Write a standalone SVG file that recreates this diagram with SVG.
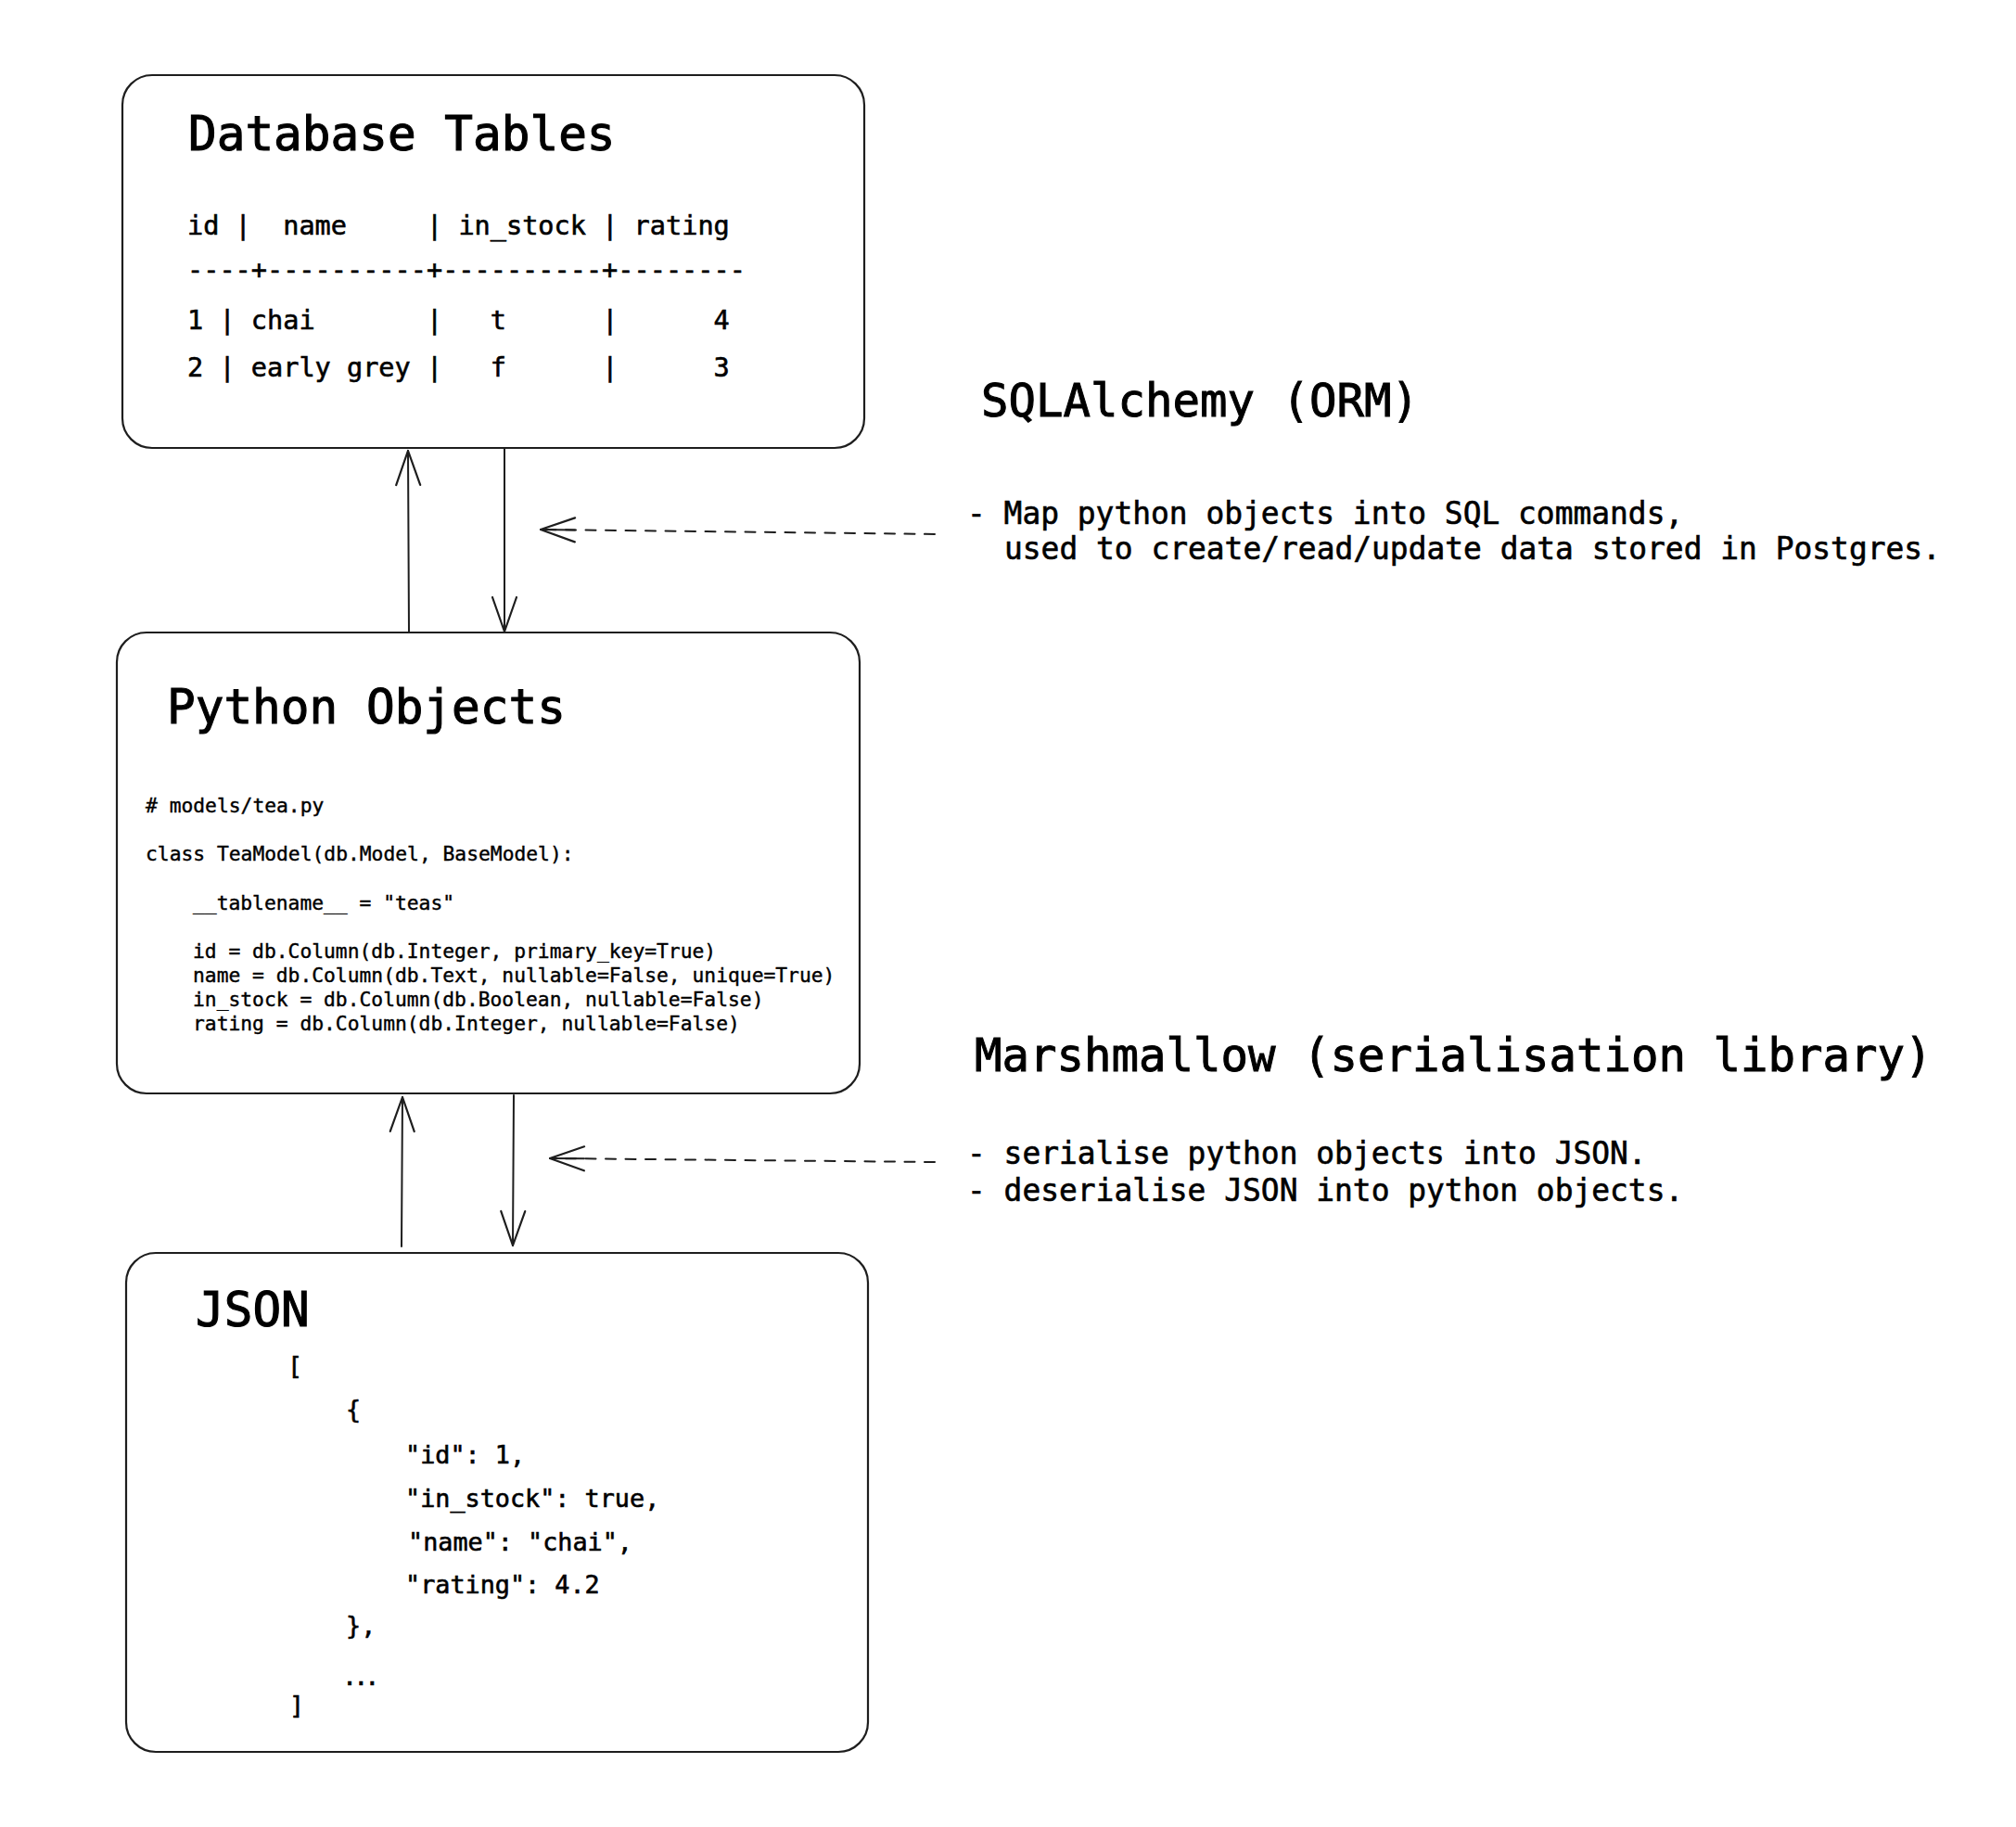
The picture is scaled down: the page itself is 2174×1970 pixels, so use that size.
<svg xmlns="http://www.w3.org/2000/svg" width="2174" height="1970" viewBox="0 0 2174 1970">
<style>
.box{fill:#ffffff;stroke:#1e1e1e;stroke-width:2.2}
.t{font-family:"DejaVu Sans Mono","Liberation Mono",monospace;fill:#000000;stroke:#000000;stroke-width:0.6;white-space:pre}
.title{font-size:51px;stroke-width:1.1}
.side{font-size:49px;stroke-width:1}
.tbl{font-size:28.57px}
.code{font-size:21.3px;stroke-width:0.4}
.json{font-size:26.8px}
.desc{font-size:32.9px}
.ln{fill:none;stroke:#1e1e1e;stroke-width:2;stroke-linecap:round}
.dash{stroke-dasharray:11 10.5}
</style>
<defs>
<marker id="open" markerUnits="userSpaceOnUse" orient="auto" refX="0" refY="0" markerWidth="60" markerHeight="60" viewBox="-50 -30 60 60" overflow="visible">
<path d="M -37 -13 L 0 0 L -37 13" fill="none" stroke="#1e1e1e" stroke-width="2.2" stroke-linecap="round" stroke-linejoin="round"/>
</marker>
</defs>
<rect width="2174" height="1970" fill="#ffffff"/>

<g id="database-tables">
<rect class="box" x="132" y="81" width="800" height="402" rx="32" ry="32"/>
<text class="t title" x="203" y="162">Database Tables</text>
<text class="t tbl" y="253"><tspan x="202">id</tspan><tspan x="253.6">|</tspan><tspan x="305.2">name</tspan><tspan x="460">|</tspan><tspan x="494.4">in_stock</tspan><tspan x="649.2">|</tspan><tspan x="683.6">rating</tspan></text>
<text class="t tbl" x="202" y="301">----+----------+----------+--------</text>
<text class="t tbl" y="355"><tspan x="202">1</tspan><tspan x="236.4">|</tspan><tspan x="270.8">chai</tspan><tspan x="460">|</tspan><tspan x="528.8">t</tspan><tspan x="649.2">|</tspan><tspan x="769.6">4</tspan></text>
<text class="t tbl" y="406"><tspan x="202">2</tspan><tspan x="236.4">|</tspan><tspan x="270.8">early grey</tspan><tspan x="460">|</tspan><tspan x="528.8">f</tspan><tspan x="649.2">|</tspan><tspan x="769.6">3</tspan></text>
</g>

<g id="python-objects">
<rect class="box" x="126" y="682" width="801" height="497" rx="32" ry="32"/>
<text class="t title" x="180" y="780">Python Objects</text>
<text class="t code" x="157" y="876"># models/tea.py</text>
<text class="t code" x="157" y="928">class TeaModel(db.Model, BaseModel):</text>
<text class="t code" x="208" y="981">__tablename__ = "teas"</text>
<text class="t code" x="208" y="1033">id = db.Column(db.Integer, primary_key=True)</text>
<text class="t code" x="208" y="1059">name = db.Column(db.Text, nullable=False, unique=True)</text>
<text class="t code" x="208" y="1085">in_stock = db.Column(db.Boolean, nullable=False)</text>
<text class="t code" x="208" y="1111">rating = db.Column(db.Integer, nullable=False)</text>
</g>

<g id="json">
<rect class="box" x="136" y="1351" width="800" height="538" rx="32" ry="32"/>
<text class="t title" x="211" y="1430">JSON</text>
<text class="t json" x="310" y="1482">[</text>
<text class="t json" x="373" y="1529">{</text>
<text class="t json" x="437" y="1578">"id": 1,</text>
<text class="t json" x="437" y="1625">"in_stock": true,</text>
<text class="t json" x="440" y="1672">"name": "chai",</text>
<text class="t json" x="437" y="1718">"rating": 4.2</text>
<text class="t json" x="373" y="1762">},</text>
<text class="t json" x="369" y="1817" letter-spacing="-4">...</text>
<text class="t json" x="312" y="1848">]</text>
</g>

<g id="sqlalchemy">
<text class="t side" x="1058" y="449">SQLAlchemy (ORM)</text>
<text class="t desc" x="1043" y="565">- Map python objects into SQL commands,</text>
<text class="t desc" x="1083" y="603">used to create/read/update data stored in Postgres.</text>
</g>

<g id="marshmallow">
<text class="t side" x="1051" y="1155">Marshmallow (serialisation library)</text>
<text class="t desc" x="1043" y="1255">- serialise python objects into JSON.</text>
<text class="t desc" x="1043" y="1295">- deserialise JSON into python objects.</text>
</g>

<g id="connectors">
<path class="ln" d="M 441 682 L 440 486" marker-end="url(#open)"/>
<path class="ln" d="M 544 484 L 544 681" marker-end="url(#open)"/>
<path class="ln dash" d="M 1008 576 L 584 571"/>
<path class="ln" d="M 620 571.4 L 583 571" marker-end="url(#open)"/>
<path class="ln" d="M 433 1344 L 434 1183" marker-end="url(#open)"/>
<path class="ln" d="M 554 1181 L 553 1343" marker-end="url(#open)"/>
<path class="ln dash" d="M 1008 1253 L 594 1249"/>
<path class="ln" d="M 630 1249.3 L 593 1249" marker-end="url(#open)"/>
</g>
</svg>
